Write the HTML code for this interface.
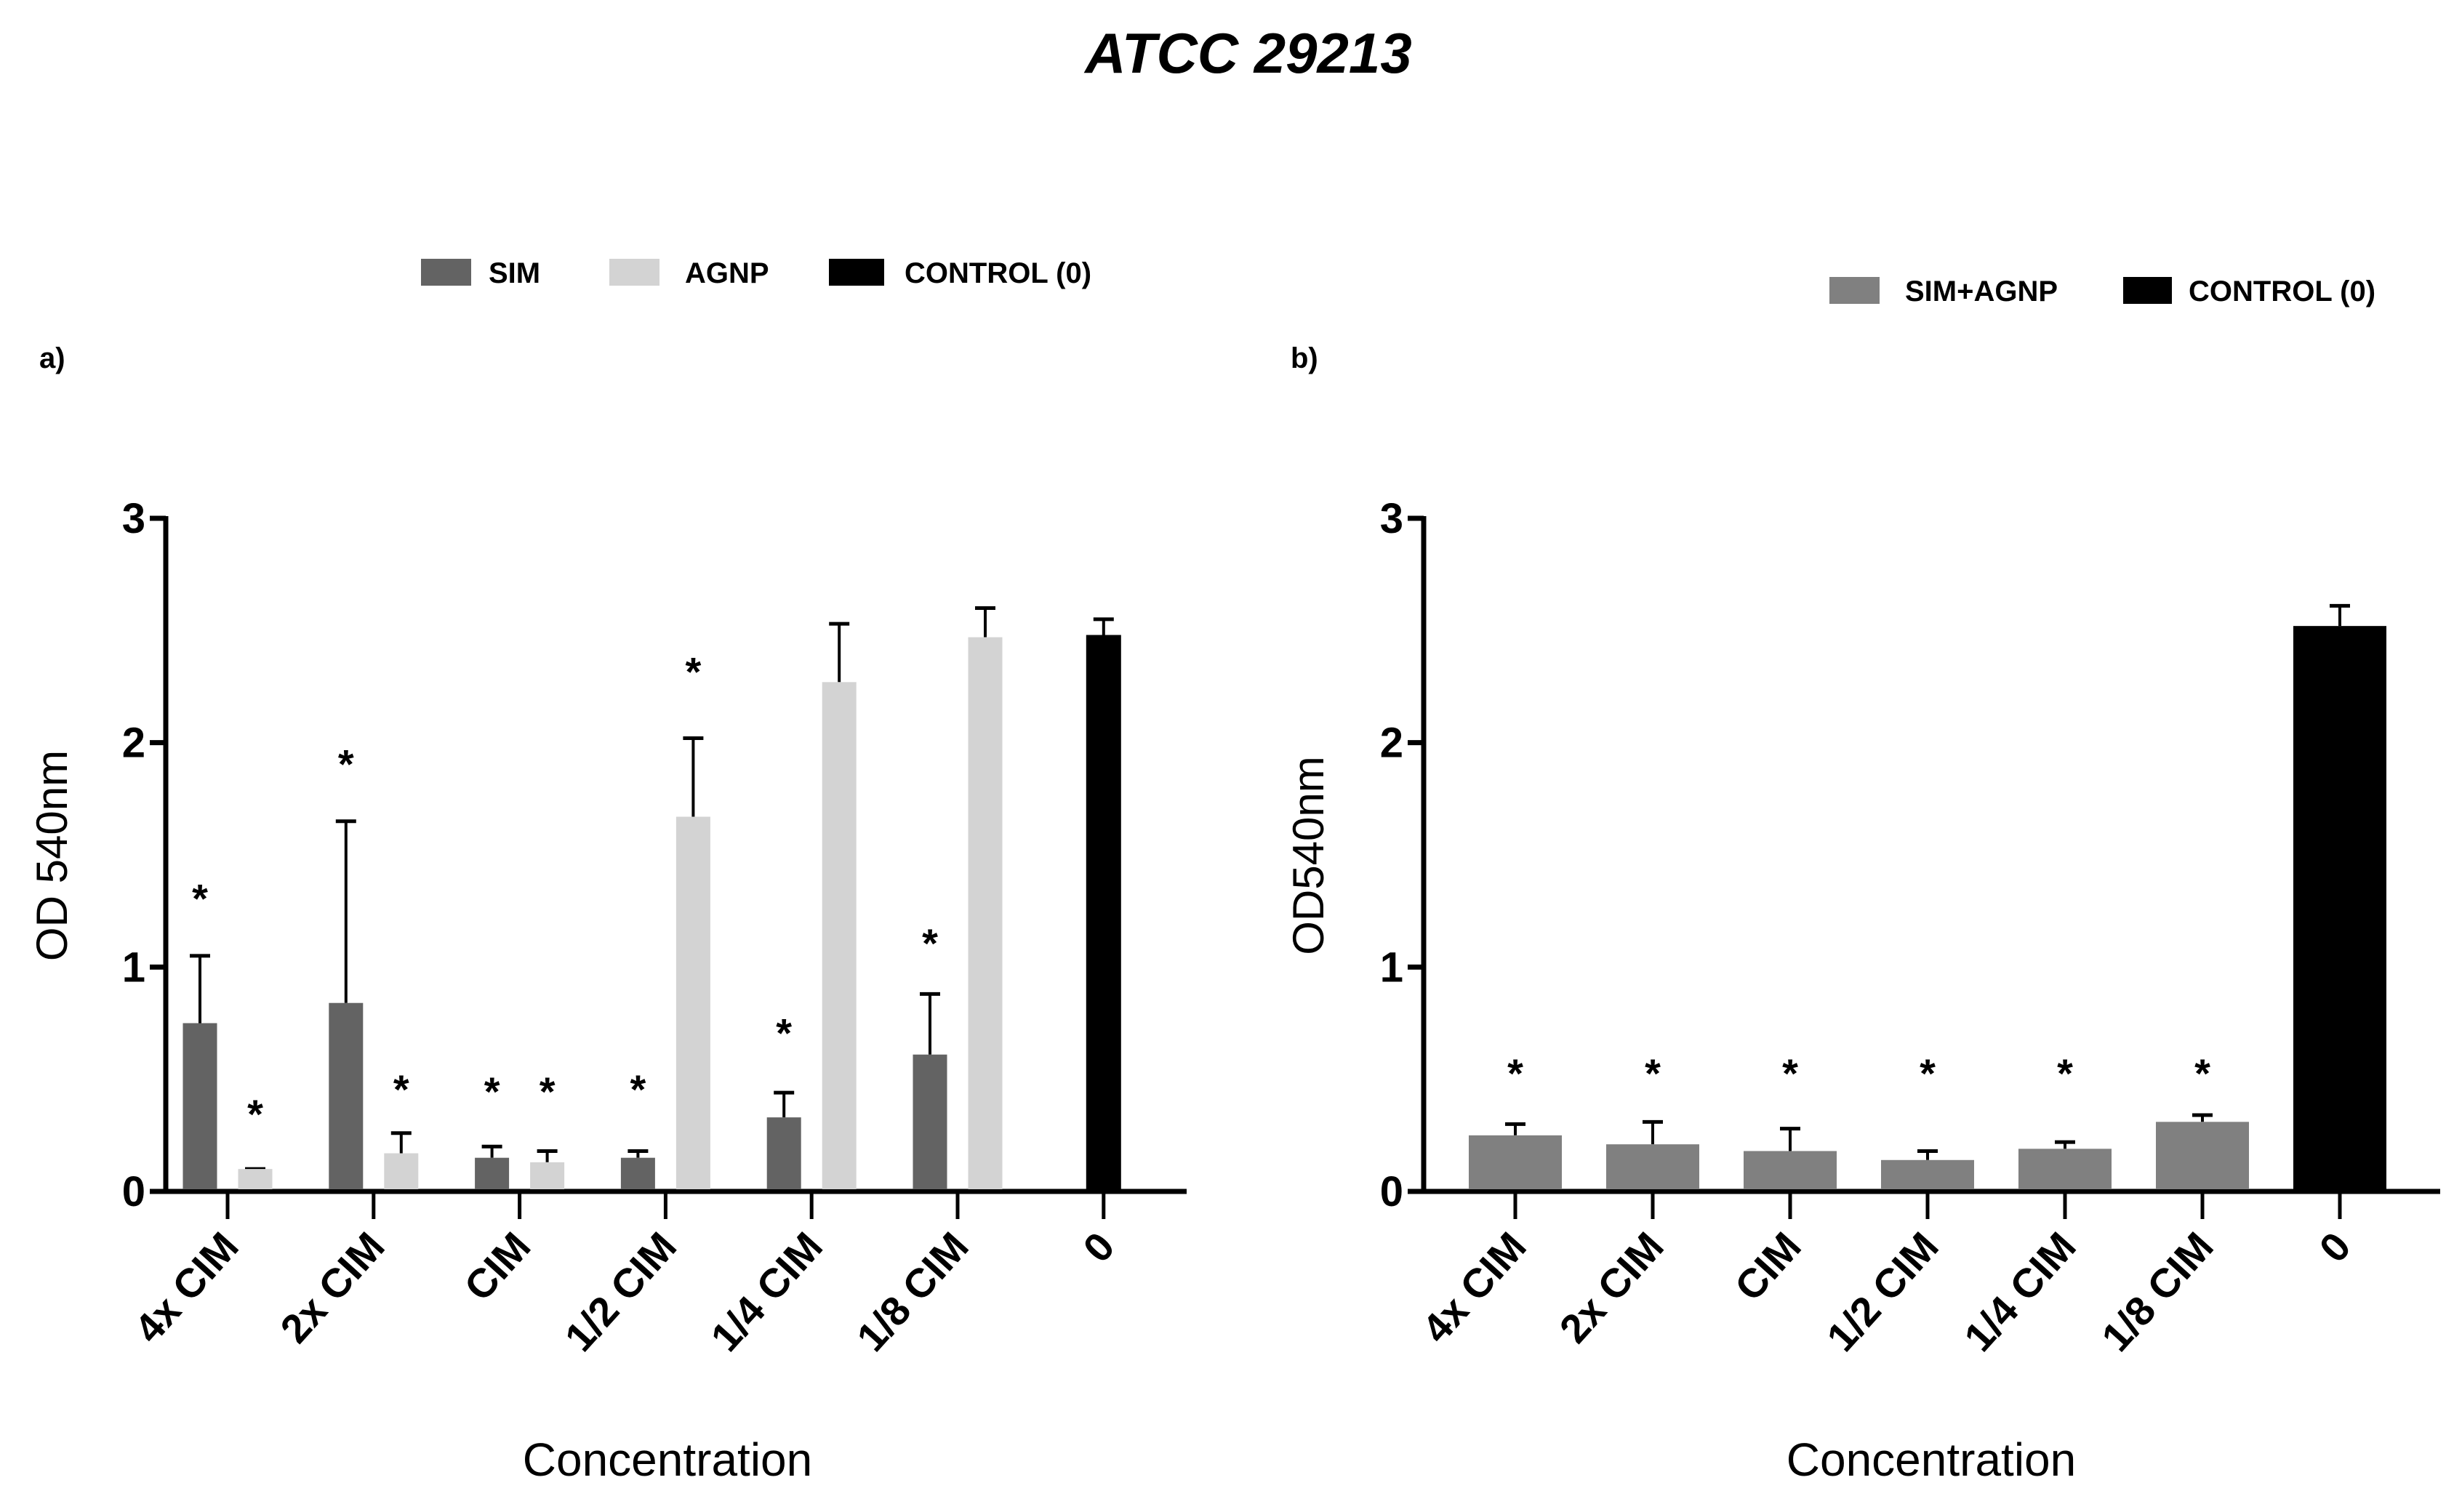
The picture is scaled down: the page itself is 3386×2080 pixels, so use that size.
<!DOCTYPE html>
<html><head><meta charset="utf-8"><style>
html,body{margin:0;padding:0;background:#fff}
svg{display:block}
text{font-family:"Liberation Sans",sans-serif}
</style></head><body>
<svg id="svg" width="3386" height="2080" viewBox="0 0 3386 2080" xmlns="http://www.w3.org/2000/svg">
<text x="1717" y="100" text-anchor="middle" font-size="78" font-weight="bold" font-style="italic">ATCC 29213</text>
<g>
<rect x="579" y="356" width="69" height="37" fill="#636363"/>
<text x="672" y="389" font-size="40" font-weight="bold">SIM</text>
<rect x="838" y="356" width="69" height="37" fill="#d3d3d3"/>
<text x="942" y="389" font-size="40" font-weight="bold">AGNP</text>
<rect x="1140" y="356" width="76" height="37" fill="#000"/>
<text x="1244" y="389" font-size="40" font-weight="bold">CONTROL (0)</text>
</g>
<g>
<rect x="2516" y="381" width="69" height="37" fill="#808080"/>
<text x="2620" y="414" font-size="40" font-weight="bold">SIM+AGNP</text>
<rect x="2920" y="381" width="67" height="37" fill="#000"/>
<text x="3010" y="414" font-size="40" font-weight="bold">CONTROL (0)</text>
</g>
<text x="54" y="506" font-size="40" font-weight="bold">a)</text>
<text x="1775" y="506" font-size="40" font-weight="bold">b)</text>
<g id="chartA"></g>
<g id="chartB"></g>
</svg>
<script>
const catsA = ["4x CIM","2x CIM","CIM","1/2 CIM","1/4 CIM","1/8 CIM","0"];
const simVals = [0.75,0.84,0.15,0.15,0.33,0.61];
const simErr = [1.05,1.65,0.20,0.18,0.44,0.88];
const simStars = [1.33,1.93,0.47,0.48,0.73,1.13];
const agnpVals = [0.10,0.17,0.13,1.67,2.27,2.47];
const agnpErr = [0.10,0.26,0.18,2.02,2.53,2.60];
const agnpStars = [0.37,0.48,0.47,2.34,null,null];
const ctrlA = [2.48];
const ctrlAErr = [2.55];
const catsB = ["4x CIM","2x CIM","CIM","1/2 CIM","1/4 CIM","1/8 CIM","0"];
const comboVals = [0.25,0.21,0.18,0.14,0.19,0.31];
const comboErr = [0.30,0.31,0.28,0.18,0.22,0.34];
const comboStars = [0.55,0.55,0.55,0.55,0.55,0.55];
const ctrlB = [2.52];
const ctrlBErr = [2.61];
const yTicks = [0,1,2,3];

const NS="http://www.w3.org/2000/svg";
function mk(parent,tag,attrs,text){const e=document.createElementNS(NS,tag);for(const k in attrs)e.setAttribute(k,attrs[k]);if(text!==undefined)e.textContent=text;parent.appendChild(e);return e;}

function axes(g,ax){
  const y=v=>ax.y0-v*(ax.y0-ax.y3)/3;
  const x=i=>ax.x0+ax.first+i*ax.step;
  let e;
  e=mk(g,'line',{x1:ax.axisX,y1:ax.y3-3,x2:ax.axisX,y2:ax.y0+3,stroke:'#000','stroke-width':7});
  
  
  e=mk(g,'line',{x1:ax.axisX-18,y1:ax.y0,x2:ax.xEnd,y2:ax.y0,stroke:'#000','stroke-width':7});
  
  
  yTicks.forEach(t=>{
    e=mk(g,'line',{x1:ax.axisX-22,y1:y(t),x2:ax.axisX,y2:y(t),stroke:'#000','stroke-width':7});
    
    
    e=mk(g,'text',{x:ax.axisX-28,y:y(t)+20,'text-anchor':'end','font-size':58,'font-weight':'bold'},String(t));
    
    
  });
  ax.cats.forEach((c,i)=>{
    e=mk(g,'line',{x1:x(i),y1:ax.y0,x2:x(i),y2:ax.y0+38,stroke:'#000','stroke-width':5});
    
    
    e=mk(g,'text',{x:x(i)+18,y:ax.y0+78,'text-anchor':'end','font-size':56,'font-weight':'bold',transform:`rotate(-48 ${x(i)+18} ${ax.y0+78})`},c);
    
    
  });
  e=mk(g,'text',{x:ax.ytX,y:1177,'text-anchor':'middle','font-size':60,transform:`rotate(-90 ${ax.ytX} 1177)`},ax.ytitle);
  
  
  e=mk(g,'text',{x:ax.xtX,y:2030,'text-anchor':'middle','font-size':64},'Concentration');
  
  
  return {x,y};
}
function bar(g,cx,w,v,err,color,y,name){
  let e=mk(g,'line',{x1:cx,y1:y(v),x2:cx,y2:y(err),stroke:'#000','stroke-width':4});
  
  
  e=mk(g,'line',{x1:cx-14,y1:y(err),x2:cx+14,y2:y(err),stroke:'#000','stroke-width':5});
  
  
  e=mk(g,'rect',{x:cx-w/2,y:y(v),width:w,height:y(0)-y(v)-3,fill:color});
  
  
}
function star(g,cx,v,y){
  if(v===null)return;
  const e=mk(g,'text',{x:cx,y:y(v)+27,'text-anchor':'middle','font-size':56,'font-weight':'bold'},'*');
  
  
}
// Chart A
const gA=document.getElementById('chartA');
const A=axes(gA,{axisX:228,x0:0,first:313,step:200.8,y0:1639,y3:713,xEnd:1632,cats:catsA,ytitle:'OD 540nm',ytX:92,xtX:918});
simVals.forEach((v,i)=>{bar(gA,A.x(i)-38,47,v,simErr[i],'#636363',A.y,'bar-sim');star(gA,A.x(i)-38,simStars[i],A.y);});
agnpVals.forEach((v,i)=>{bar(gA,A.x(i)+38,47,v,agnpErr[i],'#d3d3d3',A.y,'bar-agnp');star(gA,A.x(i)+38,agnpStars[i],A.y);});
bar(gA,A.x(6),48,ctrlA[0],ctrlAErr[0],'#000',A.y,'bar-control');
// Chart B
const gB=document.getElementById('chartB');
const B=axes(gB,{axisX:1958,x0:0,first:2084,step:189,y0:1639,y3:713,xEnd:3356,cats:catsB,ytitle:'OD540nm',ytX:1820,xtX:2656});
comboVals.forEach((v,i)=>{bar(gB,B.x(i),128,v,comboErr[i],'#808080',B.y,'bar-sim-agnp');star(gB,B.x(i),comboStars[i],B.y);});
bar(gB,B.x(6),128,ctrlB[0],ctrlBErr[0],'#000',B.y,'bar-control');
</script>
</body></html>
